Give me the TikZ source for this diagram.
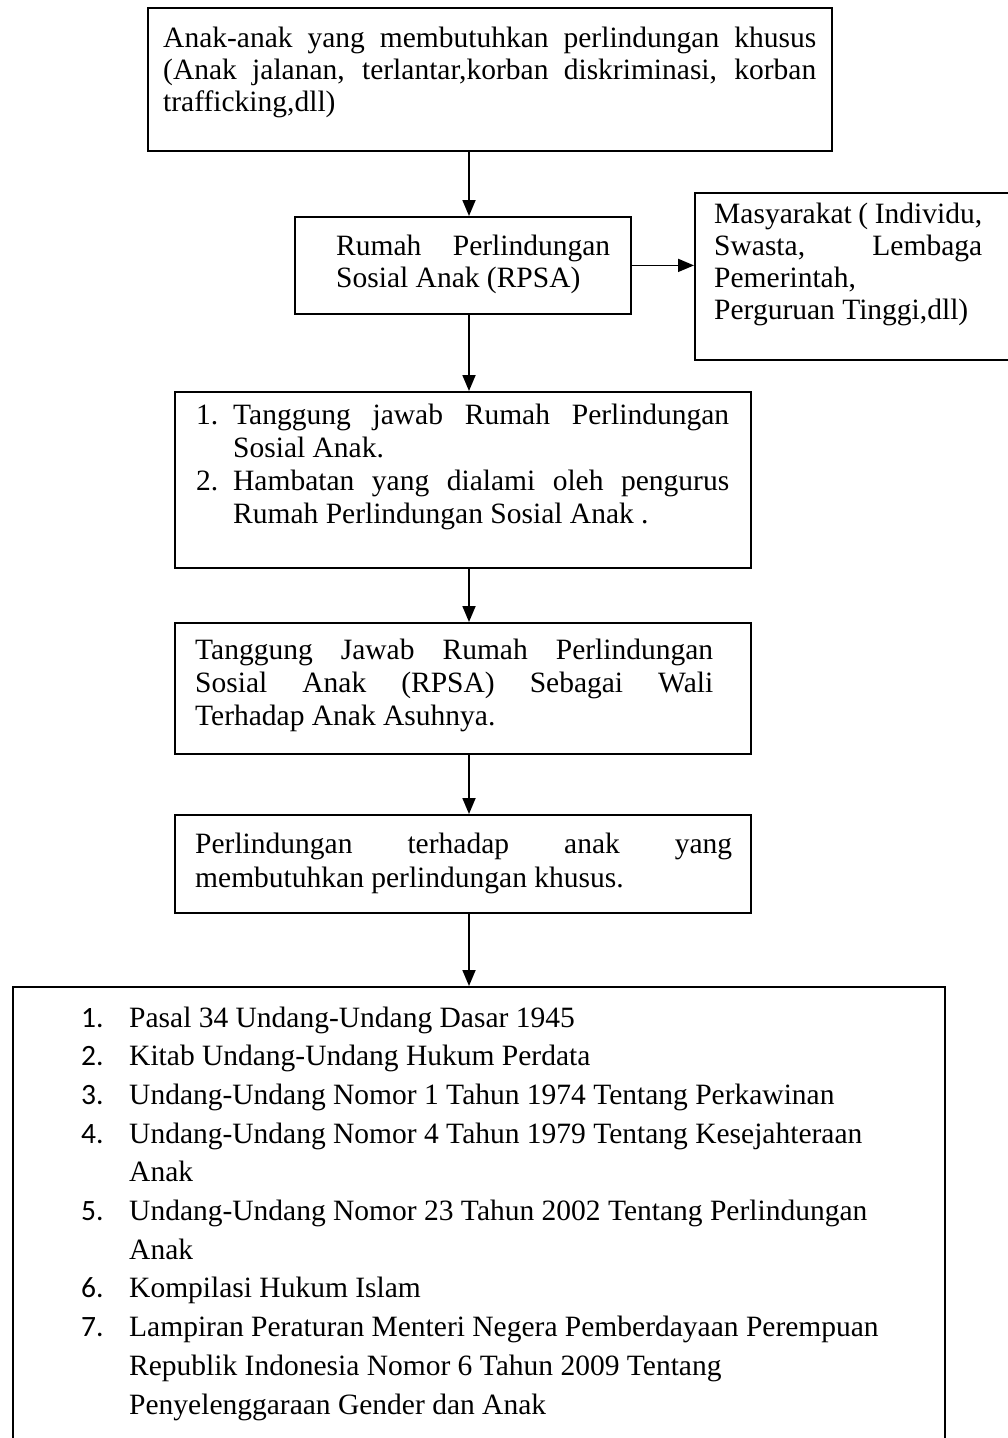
\documentclass[tikz,border=0pt]{standalone}
\usepackage{fontspec}
\setmainfont{Liberation Serif}
\newfontfamily\numfont{Carlito}
\usetikzlibrary{arrows.meta}
\newcommand\jl[2]{\makebox[#1pt][s]{#2}}
\newcommand\nitem[2]{\makebox[48pt][l]{\numfont #1}#2}
\newcommand\ncont[1]{\hspace*{48pt}#1}
\newcommand\titem[2]{\makebox[37pt][l]{#1}#2}
\begin{document}
\begin{tikzpicture}[x=1pt,y=-1pt,
  box/.style={draw, line width=1.8pt, inner sep=0pt, anchor=north west},
  txt/.style={anchor=base west, inner sep=0pt, font=\fontsize{29.5}{32}\selectfont},
  arr/.style={line width=1.8pt, -{Triangle[width=13pt,length=16pt]}}]
\useasboundingbox (0,0) rectangle (1008,1438);
\clip (0,0) rectangle (1008,1438);
\coordinate (ax) at (469,0);
% boxes
\node[box, minimum width=684pt, minimum height=143pt] (b1) at (147,7) {};
\node[box, minimum width=336pt, minimum height=97pt] (b2) at (294,216) {};
\node[box, minimum width=340pt, minimum height=167pt] (mas) at (694,192) {};
\node[box, minimum width=576pt, minimum height=176pt] (b3) at (174,391) {};
\node[box, minimum width=576pt, minimum height=131pt] (b4) at (174,622) {};
\node[box, minimum width=576pt, minimum height=98pt] (b5) at (174,814) {};
\node[box, minimum width=932pt, minimum height=480pt] (b6) at (12,986) {};
% texts
\node[txt] (t1) at (163,47) {\parbox[t]{653pt}{\jl{653}{Anak-anak yang membutuhkan perlindungan khusus}\\
  \jl{653}{(Anak jalanan, terlantar,korban diskriminasi, korban}\\
  trafficking,dll)}};
\node[txt] (t2) at (336,255) {\parbox[t]{274pt}{\jl{274}{Rumah Perlindungan}\\
  Sosial Anak (RPSA)}};
\node[txt] (tm) at (714,223) {\parbox[t]{268pt}{\jl{268}{Masyarakat ( Individu,}\\
  \jl{268}{Swasta, Lembaga}\\
  Pemerintah,\\
  Perguruan Tinggi,dll)}};
\node[txt, font=\fontsize{29.5}{33}\selectfont] (t3) at (196,424) {\parbox[t]{540pt}{\titem{1.}{\jl{496}{Tanggung jawab Rumah Perlindungan}}\\
  \hspace*{37pt}Sosial Anak.\\
  \titem{2.}{\jl{496}{Hambatan yang dialami oleh pengurus}}\\
  \hspace*{37pt}Rumah Perlindungan Sosial Anak .}};
\node[txt, font=\fontsize{29.5}{33}\selectfont] (t4) at (195,659) {\parbox[t]{518pt}{\jl{518}{Tanggung Jawab Rumah Perlindungan}\\
  \jl{518}{Sosial Anak (RPSA) Sebagai Wali}\\
  Terhadap Anak Asuhnya.}};
\node[txt, font=\fontsize{29.5}{34}\selectfont] (t5) at (195,853) {\parbox[t]{537pt}{\jl{537}{Perlindungan terhadap anak yang}\\
  membutuhkan perlindungan khusus.}};
\node[txt, font=\fontsize{29.5}{38.7}\selectfont] (t6) at (81,1027) {\parbox[t]{860pt}{\nitem{1.}{Pasal 34 Undang-Undang Dasar 1945}\\
  \nitem{2.}{Kitab Undang-Undang Hukum Perdata}\\
  \nitem{3.}{Undang-Undang Nomor 1 Tahun 1974 Tentang Perkawinan}\\
  \nitem{4.}{Undang-Undang Nomor 4 Tahun 1979 Tentang Kesejahteraan}\\
  \ncont{Anak}\\
  \nitem{5.}{Undang-Undang Nomor 23 Tahun 2002 Tentang Perlindungan}\\
  \ncont{Anak}\\
  \nitem{6.}{Kompilasi Hukum Islam}\\
  \nitem{7.}{Lampiran Peraturan Menteri Negera Pemberdayaan Perempuan}\\
  \ncont{Republik Indonesia Nomor 6 Tahun 2009 Tentang}\\
  \ncont{Penyelenggaraan Gender dan Anak}}};
% connectors
\draw[arr] (b1.south -| ax) -- (b2.north -| ax);
\draw[arr] (b2.east) -- (b2.east -| mas.west);
\draw[arr] (b2.south -| ax) -- (b3.north -| ax);
\draw[arr] (b3.south -| ax) -- (b4.north -| ax);
\draw[arr] (b4.south -| ax) -- (b5.north -| ax);
\draw[arr] (b5.south -| ax) -- (b6.north -| ax);
\end{tikzpicture}
\end{document}
